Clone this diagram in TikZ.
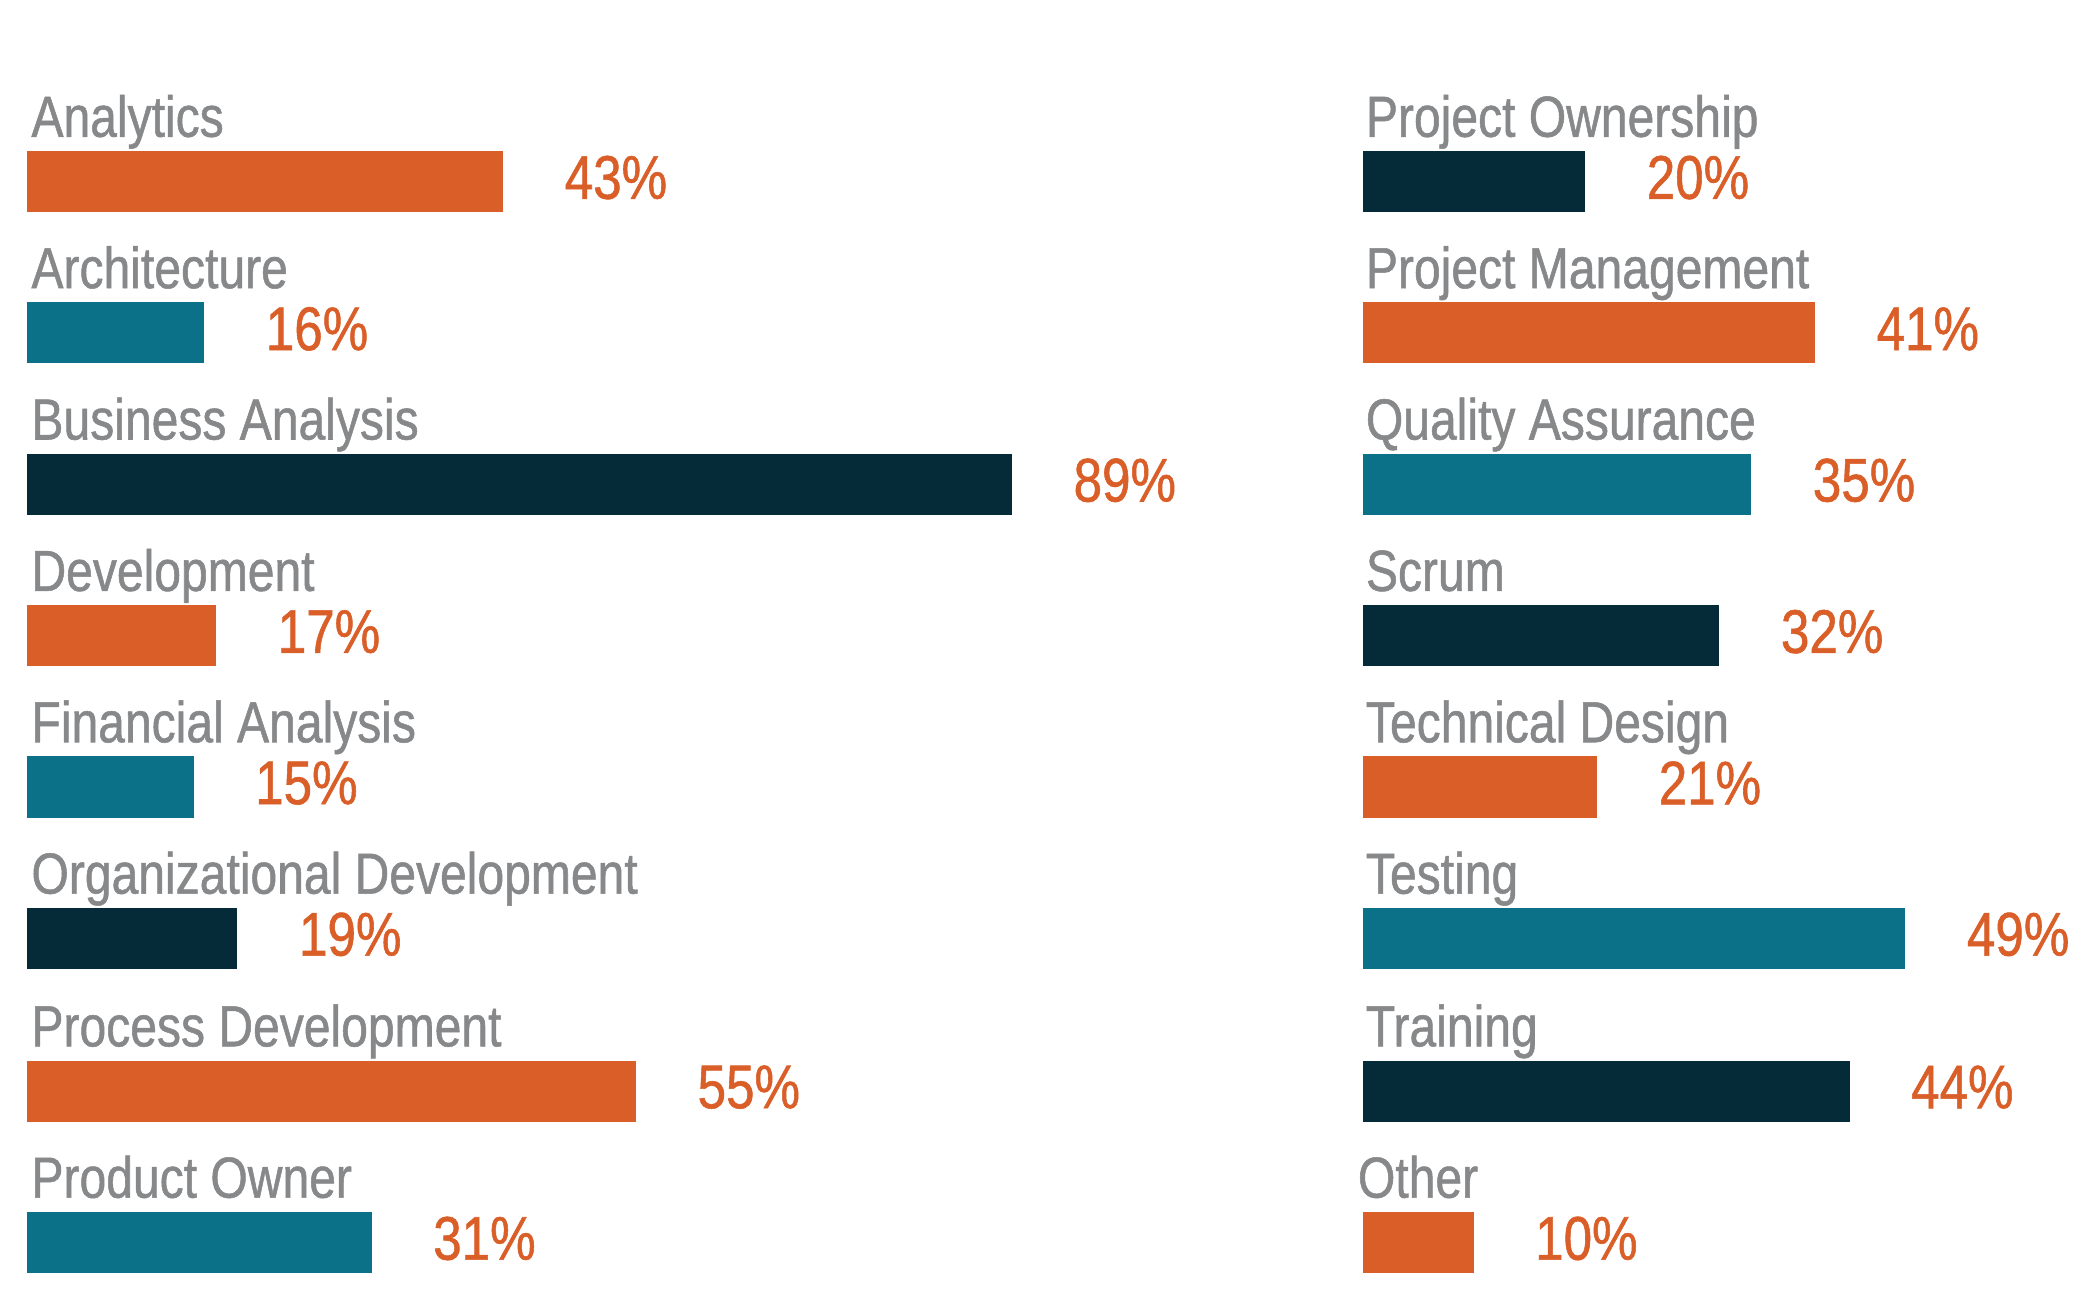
\documentclass[tikz,border=0pt]{standalone}
\usepackage{fontspec}
\setmainfont[FakeStretch=0.83, FakeBold=0.9]{Liberation Sans}
\usetikzlibrary{positioning}
\definecolor{barorange}{HTML}{D95E28}
\definecolor{barteal}{HTML}{0B7189}
\definecolor{barnavy}{HTML}{052A38}
\definecolor{labelgrey}{HTML}{86888A}
\begin{document}
\begin{tikzpicture}[
    x=0.01cm, y=-0.01cm,
    bar/.style={rectangle, anchor=north west, inner sep=0pt, minimum height=0.46cm},
    cat/.style={anchor=base west, inner sep=0pt, text=labelgrey, font=\fontsize{12.4}{14}\selectfont},
    pct/.style={inner sep=0pt, yshift=0.03cm, text=barorange, font=\fontsize{13.2}{15}\selectfont},
    node distance=0.45cm
]
  \useasboundingbox (0,0) rectangle (1568,985);

  % 左列
  \node[cat] (c1) at (23,103) {Analytics};
  \node[bar, fill=barorange, minimum width=3.58cm] (b1) at (20,113) {};
  \node[pct, right=of b1] (p1) {43\%};

  \node[cat] (c2) at (23,217) {Architecture};
  \node[bar, fill=barteal, minimum width=1.33cm] (b2) at (20,227) {};
  \node[pct, right=of b2] (p2) {16\%};

  \node[cat] (c3) at (23,331) {Business Analysis};
  \node[bar, fill=barnavy, minimum width=7.41cm] (b3) at (20,341) {};
  \node[pct, right=of b3] (p3) {89\%};

  \node[cat] (c4) at (23,445) {Development};
  \node[bar, fill=barorange, minimum width=1.42cm] (b4) at (20,455) {};
  \node[pct, right=of b4] (p4) {17\%};

  \node[cat] (c5) at (23,559) {Financial Analysis};
  \node[bar, fill=barteal, minimum width=1.25cm] (b5) at (20,569) {};
  \node[pct, right=of b5] (p5) {15\%};

  \node[cat] (c6) at (23,673) {Organizational Development};
  \node[bar, fill=barnavy, minimum width=1.58cm] (b6) at (20,683) {};
  \node[pct, right=of b6] (p6) {19\%};

  \node[cat] (c7) at (23,788) {Process Development};
  \node[bar, fill=barorange, minimum width=4.58cm] (b7) at (20,798) {};
  \node[pct, right=of b7] (p7) {55\%};

  \node[cat] (c8) at (23,902) {Product Owner};
  \node[bar, fill=barteal, minimum width=2.59cm] (b8) at (20,912) {};
  \node[pct, right=of b8] (p8) {31\%};

  % 右列
  \node[cat] (c9) at (1028,103) {Project Ownership};
  \node[bar, fill=barnavy, minimum width=1.67cm] (b9) at (1026,113) {};
  \node[pct, right=of b9] (p9) {20\%};

  \node[cat] (c10) at (1028,217) {Project Management};
  \node[bar, fill=barorange, minimum width=3.40cm] (b10) at (1026,227) {};
  \node[pct, right=of b10] (p10) {41\%};

  \node[cat] (c11) at (1028,331) {Quality Assurance};
  \node[bar, fill=barteal, minimum width=2.92cm] (b11) at (1026,341) {};
  \node[pct, right=of b11] (p11) {35\%};

  \node[cat] (c12) at (1028,445) {Scrum};
  \node[bar, fill=barnavy, minimum width=2.68cm] (b12) at (1026,455) {};
  \node[pct, right=of b12] (p12) {32\%};

  \node[cat] (c13) at (1028,559) {Technical Design};
  \node[bar, fill=barorange, minimum width=1.76cm] (b13) at (1026,569) {};
  \node[pct, right=of b13] (p13) {21\%};

  \node[cat] (c14) at (1028,673) {Testing};
  \node[bar, fill=barteal, minimum width=4.08cm] (b14) at (1026,683) {};
  \node[pct, right=of b14] (p14) {49\%};

  \node[cat] (c15) at (1028,788) {Training};
  \node[bar, fill=barnavy, minimum width=3.66cm] (b15) at (1026,798) {};
  \node[pct, right=of b15] (p15) {44\%};

  \node[cat] (c16) at (1022,902) {Other};
  \node[bar, fill=barorange, minimum width=0.83cm] (b16) at (1026,912) {};
  \node[pct, right=of b16] (p16) {10\%};

\end{tikzpicture}
\end{document}
